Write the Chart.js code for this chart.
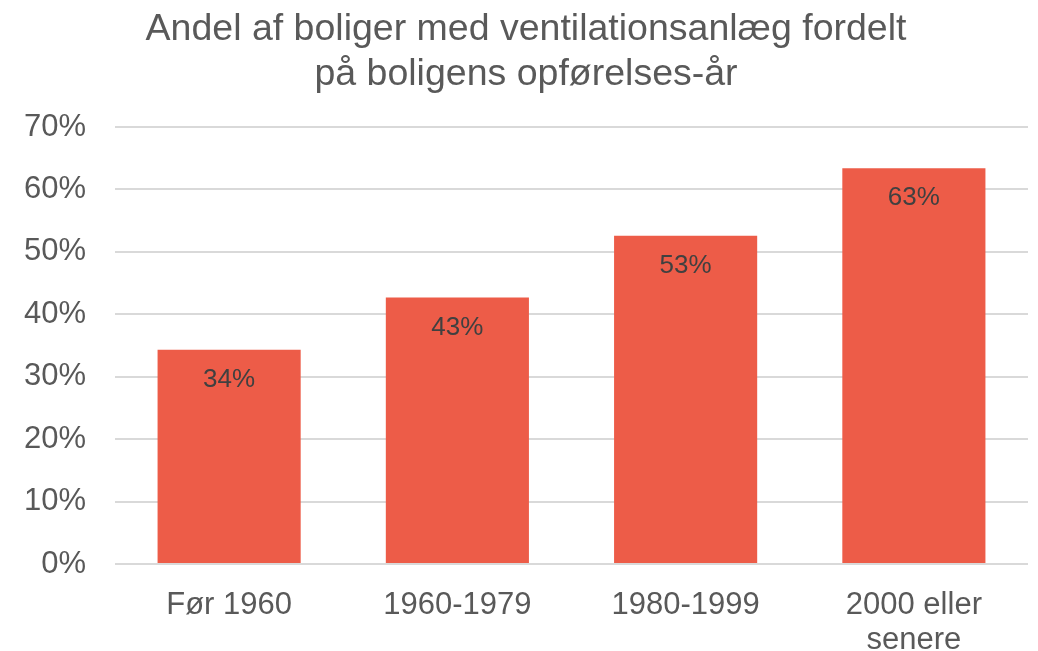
<!DOCTYPE html>
<html>
<head>
<meta charset="utf-8">
<script src="https://cdn.jsdelivr.net/npm/chart.js@4"></script>
<style>
  html, body { margin: 0; padding: 0; background: #fff; }
  #wrap { width: 1038px; height: 651px; }
</style>
</head>
<body>
<div id="wrap"><canvas id="myChart" width="1038" height="651"></canvas></div>
<script>
var categories = ['Før 1960', '1960-1979', '1980-1999', ['2000 eller', 'senere']];
var shares = [34.3, 42.7, 52.6, 63.4];
var titleLines = ['Andel af boliger med ventilationsanlæg fordelt', 'på boligens opførelses-år'];

var FONT = '"Liberation Sans", Arial, sans-serif';

// draws the value inside the top of each bar
var barLabels = {
  id: 'barLabels',
  afterDatasetsDraw: function(chart) {
    var ctx = chart.ctx;
    var meta = chart.getDatasetMeta(0);
    ctx.save();
    ctx.font = '26px ' + FONT;
    ctx.fillStyle = '#404040';
    ctx.textAlign = 'center';
    ctx.textBaseline = 'middle';
    meta.data.forEach(function(bar, i) {
      ctx.fillText(Math.round(shares[i]) + '%', bar.x, bar.y + 30);
    });
    ctx.restore();
  }
};

window.onload = function() {
  var ctx = document.getElementById('myChart').getContext('2d');
  new Chart(ctx, {
    type: 'bar',
    data: {
      labels: categories,
      datasets: [{
        data: shares,
        backgroundColor: '#ED5C48',
        categoryPercentage: 0.627,
        barPercentage: 1.0
      }]
    },
    options: {
      responsive: false,
      animation: false,
      layout: { padding: { left: 24, right: 10, top: 0, bottom: 0 } },
      plugins: {
        legend: { display: false },
        tooltip: { enabled: false },
        title: {
          display: true,
          text: titleLines,
          color: '#595959',
          font: { family: FONT, size: 37.5, weight: 'normal', lineHeight: 1.2 },
          padding: { top: 7, bottom: 30 }
        }
      },
      scales: {
        x: {
          grid: { display: false },
          border: { display: false },
          afterFit: function(scale) { scale.height = 87; },
          ticks: {
            color: '#595959',
            padding: 16,
            maxRotation: 0,
            font: { family: FONT, size: 31, lineHeight: 1.13 }
          }
        },
        y: {
          min: 0,
          max: 70,
          border: { display: false },
          afterFit: function(scale) { scale.width = 91; },
          grid: { color: '#D9D9D9', lineWidth: 2, drawTicks: false },
          ticks: {
            stepSize: 10,
            color: '#595959',
            padding: 29,
            font: { family: FONT, size: 31 },
            callback: function(v) { return v + '%'; }
          }
        }
      }
    },
    plugins: [barLabels]
  });
};
</script>
</body>
</html>
